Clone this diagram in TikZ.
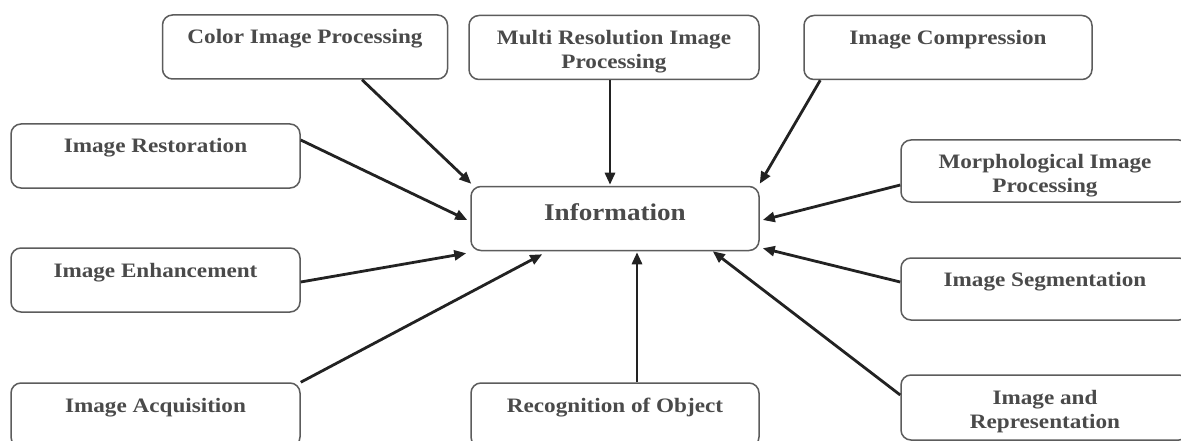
\documentclass[tikz,border=0pt]{standalone}
\usepackage{fontspec}
\setmainfont[FakeStretch=1.13]{Liberation Serif}
\usetikzlibrary{arrows.meta,calc}
\definecolor{txtc}{HTML}{4A4A4A}
\definecolor{brdc}{HTML}{5C5C5C}
\definecolor{arrc}{HTML}{222222}
\tikzset{
  box/.style={draw=brdc, line width=1.5pt, rounded corners=10pt,
    minimum width=288pt, minimum height=64pt, inner sep=0pt,
    text=txtc, font=\fontsize{20.5}{24}\selectfont\bfseries, align=center},
  oneline/.style={text height=14pt, text depth=20pt},
  conn/.style={draw=arrc, line width=2.8pt, -{Triangle[length=12pt,width=10pt]}}
}
\begin{document}
\begin{tikzpicture}[x=1pt,y=-1pt]
\useasboundingbox (0,0) rectangle (1181,441);
\fill[white] (0,0) rectangle (1181,441);
\clip (0,0) rectangle (1181,441);

\node[box,oneline,minimum width=285pt] (color) at (305,47) {Color Image Processing};
\node[box,minimum width=290pt] (multi) at (614,47.5) {\rule{0pt}{23pt}Multi Resolution Image\\Processing};
\node[box,oneline] (compr) at (948,47.5) {Image Compression};
\node[box,oneline,minimum width=289pt] (restor) at (155.5,156) {Image Restoration};
\node[box,font=\fontsize{24}{28}\selectfont\bfseries,text height=16pt,text depth=13pt] (info) at (615,218.5) {Information};
\node[box,minimum height=62pt] (morph) at (1045,171) {\rule{0pt}{23pt}Morphological Image\\Processing};
\node[box,oneline,minimum width=289pt] (enh) at (155.5,280) {Image Enhancement};
\node[box,oneline,minimum height=62pt] (seg) at (1045,289) {Image Segmentation};
\node[box,oneline,minimum width=289pt] (acq) at (155.5,415) {Image Acquisition};
\node[box,oneline] (recog) at (615,415) {Recognition of Object};
\node[box,minimum height=65pt] (repr) at (1045,407.5) {\rule{0pt}{23pt}Image and\\Representation};

\draw[conn] ($(color.south)+(57,0)$) -- ($(info.north west)+(1,-2)$);
\draw[conn] ($(multi.south)+(-4,0)$) -- ($(info.north)+(-5,-1)$);
\draw[conn] ($(compr.south west)+(17,0)$) -- ($(info.north east)+(0,-2)$);
\draw[conn] ($(restor.east)+(0,-16)$) -- ($(info.west)+(-3,1.5)$);
\draw[conn] ($(morph.west)+(0,14)$) -- ($(info.east)+(3,1.5)$);
\draw[conn] ($(enh.east)+(0,2)$) -- ($(info.south west)+(-4,2)$);
\draw[conn] (acq.north east) -- ($(info.south west)+(72,3)$);
\draw[conn] ($(recog.north)+(22,0)$) -- ($(info.south)+(22,1)$);
\draw[conn] ($(seg.west)+(0,-7)$) -- ($(info.south east)+(3,-3)$);
\draw[conn] ($(repr.west)+(0,-12.5)$) -- ($(info.south east)+(-47,0)$);
\end{tikzpicture}
\end{document}
